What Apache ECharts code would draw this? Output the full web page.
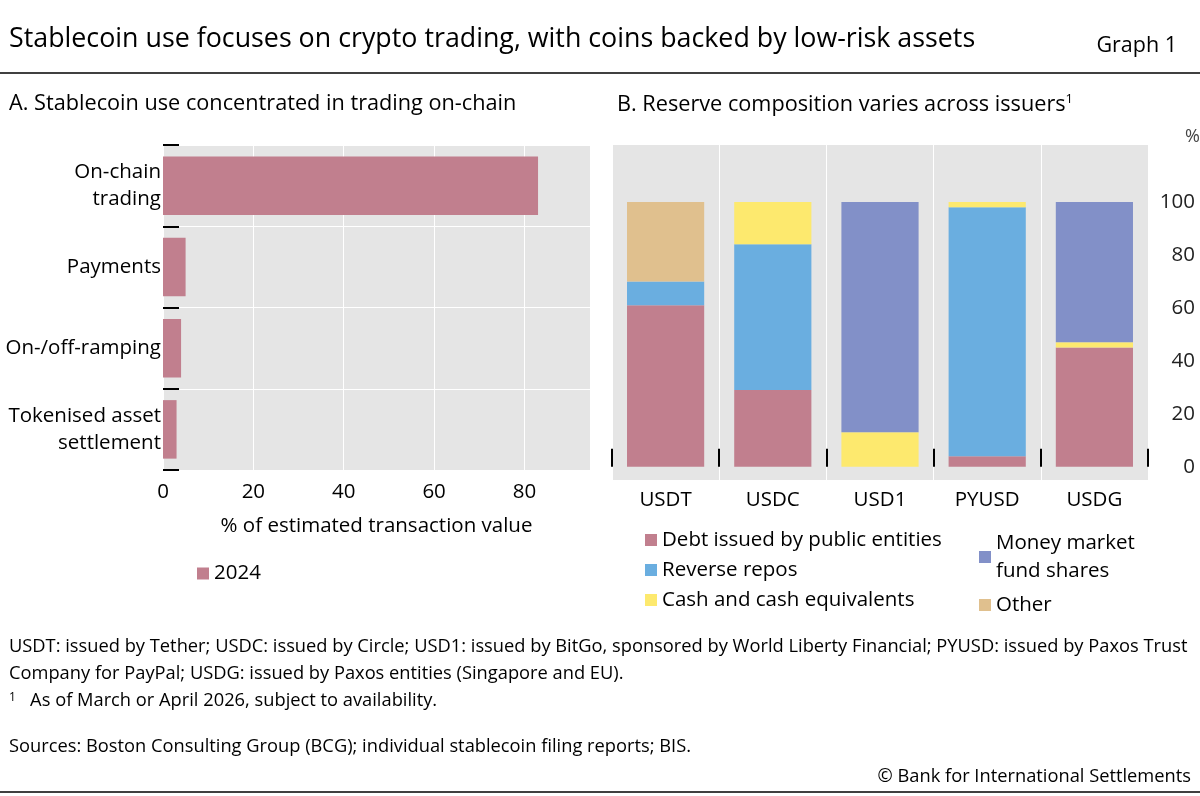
<!DOCTYPE html>
<html><head><meta charset="utf-8">
<script src="https://cdn.jsdelivr.net/npm/echarts@6/dist/echarts.min.js"></script>
<style>body{margin:0;background:#fff}#c{width:1200px;height:796px}</style></head>
<body><div id="c"></div>
<script>
const catsA = ['Tokenised asset\nsettlement','On-/off-ramping','Payments','On-chain\ntrading'];
const valsA = [3, 4, 5, 83];
const catsB = ['USDT','USDC','USD1','PYUSD','USDG'];
const debt = [61, 29, 0, 4, 45];
const repos = [9, 55, 0, 94, 0];
const cash = [0, 16, 13, 2, 2];
const mmf = [0, 0, 87, 0, 53];
const other = [30, 0, 0, 0, 0];
const F = '"Open Sans", sans-serif';
const ch = echarts.init(document.getElementById('c'));
const tx = {fontFamily:F, color:'#000'};
const L = 20.5;
ch.setOption({
  animation:false,
  textStyle:{fontFamily:F},
  title:[
    {text:'Stablecoin use focuses on crypto trading, with coins backed by low-risk assets',left:4,top:21,textStyle:{...tx,fontSize:26.8,fontWeight:'normal'}},
    {text:'Graph 1',right:18,top:30,textStyle:{...tx,fontSize:21.5,fontWeight:'normal'}},
    {text:'A. Stablecoin use concentrated in trading on-chain',left:4,top:88,textStyle:{...tx,fontSize:21.7,fontWeight:'normal'}},
    {text:'B. Reserve composition varies across issuers{s|1}',left:612,top:88,textStyle:{...tx,fontSize:21.7,fontWeight:'normal',rich:{s:{fontSize:13,verticalAlign:'top',padding:[0,0,10,0]}}}},
    {text:'%',left:1180,top:123,textStyle:{...tx,fontSize:18,fontWeight:'normal',color:'#444'}},
    {text:'USDT: issued by Tether; USDC: issued by Circle; USD1: issued by BitGo, sponsored by World Liberty Financial; PYUSD: issued by Paxos Trust\nCompany for PayPal; USDG: issued by Paxos entities (Singapore and EU).',left:4,top:628,textStyle:{...tx,fontSize:18.3,fontWeight:'normal',lineHeight:27}},
    {text:'{s|1}   As of March or April 2026, subject to availability.',left:4,top:687,textStyle:{...tx,fontSize:18.3,fontWeight:'normal',rich:{s:{fontSize:12,verticalAlign:'top'}}}},
    {text:'Sources: Boston Consulting Group (BCG); individual stablecoin filing reports; BIS.',left:4,top:733,textStyle:{...tx,fontSize:18.3,fontWeight:'normal'}},
    {text:'© Bank for International Settlements',right:4,top:763,textStyle:{...tx,fontSize:18.3,fontWeight:'normal'}}
  ],
  graphic:[
    {type:'line',shape:{x1:0,y1:73,x2:1200,y2:73},style:{stroke:'#000',lineWidth:1.5}},
    {type:'line',shape:{x1:0,y1:792,x2:1200,y2:792},style:{stroke:'#000',lineWidth:1.5}}
  ],
  legend:[
    {data:['2024'],left:192,top:558,itemWidth:12,itemHeight:12,icon:'rect',textStyle:{...tx,fontSize:L}},
    {data:['Debt issued by public entities','Reverse repos','Cash and cash equivalents'],orient:'vertical',left:640,top:523,itemGap:6,itemWidth:12,itemHeight:12,icon:'rect',textStyle:{...tx,fontSize:L,lineHeight:24}},
    {data:['Money market\nfund shares','Other'],orient:'vertical',left:974,top:524,itemGap:6,itemWidth:12,itemHeight:12,icon:'rect',textStyle:{...tx,fontSize:L,lineHeight:28}}
  ],
  grid:[
    {left:163,top:145,width:427,height:325,show:true,backgroundColor:'#e5e5e5',borderWidth:0},
    {left:612,top:145,width:536,height:335,show:true,backgroundColor:'#e5e5e5',borderWidth:0}
  ],
  xAxis:[
    {gridIndex:0,type:'value',min:0,max:94.5,interval:20,axisLine:{show:false},axisTick:{show:false},
     axisLabel:{...tx,fontSize:L,showMaxLabel:false,margin:12},splitLine:{lineStyle:{color:'#fff',width:1}},
     name:'% of estimated transaction value',nameLocation:'middle',nameGap:46,nameTextStyle:{...tx,fontSize:L}},
    {gridIndex:1,type:'category',data:catsB,axisLine:{show:false},
     axisTick:{show:true,inside:true,length:18,lineStyle:{color:'#000',width:2}},
     axisLabel:{...tx,fontSize:L,margin:10},splitLine:{show:true,lineStyle:{color:'#fff',width:1}}}
  ],
  yAxis:[
    {gridIndex:0,type:'category',data:catsA,axisLine:{show:false},
     axisTick:{show:true,length:-16,lineStyle:{color:'#000',width:2}},
     axisLabel:{...tx,fontSize:L,lineHeight:27,margin:2},splitLine:{show:true,lineStyle:{color:'#fff',width:1}}},
    {gridIndex:1,type:'value',position:'right',min:-5,max:121.5,interval:5,axisLine:{show:false},axisTick:{show:false},
     splitLine:{show:false},
     axisLabel:{...tx,fontSize:L,color:'#222',margin:47,align:'right',formatter:v=>(v>=0&&v<=100&&v%20===0)?String(v):''}}
  ],
  series:[
    {name:'2024',type:'bar',xAxisIndex:0,yAxisIndex:0,data:valsA,barWidth:'72%',itemStyle:{color:'#c17f8e'}},
    {name:'Debt issued by public entities',type:'bar',stack:'b',xAxisIndex:1,yAxisIndex:1,data:debt,barWidth:'72%',itemStyle:{color:'#c17f8e'}},
    {name:'Reverse repos',type:'bar',stack:'b',xAxisIndex:1,yAxisIndex:1,data:repos,itemStyle:{color:'#6aaee0'}},
    {name:'Cash and cash equivalents',type:'bar',stack:'b',xAxisIndex:1,yAxisIndex:1,data:cash,itemStyle:{color:'#fde96e'}},
    {name:'Money market\nfund shares',type:'bar',stack:'b',xAxisIndex:1,yAxisIndex:1,data:mmf,itemStyle:{color:'#8290c8'}},
    {name:'Other',type:'bar',stack:'b',xAxisIndex:1,yAxisIndex:1,data:other,itemStyle:{color:'#e0c08e'}}
  ]
});
</script></body></html>
